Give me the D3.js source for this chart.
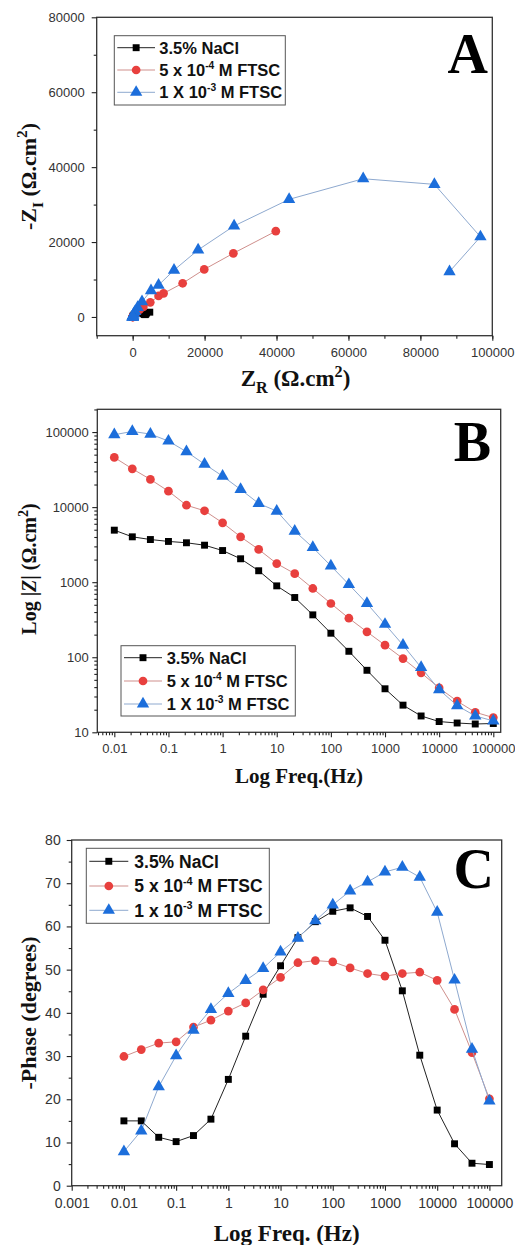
<!DOCTYPE html>
<html>
<head>
<meta charset="utf-8">
<script src="https://cdn.jsdelivr.net/npm/d3@7"></script>
<style>
  body { margin: 0; background: #fff; }
  svg { display: block; }
</style>
</head>
<body>
<svg id="chart" width="515" height="1245"></svg>
<script>
// frequencies, low -> high (Hz)
const FREQ = [0.01, 0.0215, 0.0464, 0.1, 0.215, 0.464, 1, 2.15, 4.64, 10, 21.5, 46.4,
  100, 215, 464, 1000, 2150, 4640, 10000, 21500, 46400, 100000];

// Nyquist (A): Z real / -Z imag, ohm.cm2, same order as FREQ
const NACL_ZR = [4760, 3880, 3630, 3440, 3280, 3000, 2400, 1690, 1020, 560, 340, 180, 93, 52, 31, 21, 16, 14, 13, 13, 13, 13];
const NACL_ZI = [1280, 1040, 720, 620, 670, 830, 1100, 1160, 990, 690, 530, 320, 190, 110, 59, 32, 16, 8, 4, 2, 1, 1];
const FTSC5_ZR = [39800, 28000, 19900, 13900, 8600, 7200, 4900, 2970, 1920, 1180, 810, 510, 320, 210, 140, 96, 63, 40, 26, 20, 16, 15];
const FTSC5_ZI = [22900, 17000, 12700, 9000, 6300, 5600, 3900, 2710, 1940, 1320, 1020, 650, 410, 255, 165, 109, 73, 47, 29, 17, 9, 5];
const FTSC1_ZR = [88100, 96700, 83900, 64100, 43500, 28200, 18200, 11500, 7200, 5100, 2600, 1390, 700, 350, 175, 82, 41, 23, 17, 15, 14, 13];
const FTSC1_ZI = [12100, 21400, 35400, 36900, 31400, 24300, 17900, 12500, 8500, 7000, 4100, 2540, 1500, 860, 490, 262, 139, 69, 33, 17, 9, 5];

// Bode |Z| (B), ohm.cm2
const NACL_MOD = [4930, 4020, 3700, 3490, 3350, 3110, 2640, 2050, 1420, 893, 625, 367, 209, 120, 67, 38, 23, 16.5, 13.9, 13.3, 12.9, 13.1];
const FTSC5_MOD = [45900, 32400, 23400, 16300, 10600, 8940, 6180, 4020, 2730, 1770, 1300, 824, 520, 331, 218, 145, 96, 62, 39, 26, 18.5, 15.7];
const FTSC1_MOD = [92100, 102000, 94000, 75900, 54700, 37400, 25900, 17200, 11200, 8850, 4790, 2900, 1650, 931, 520, 275, 145, 73, 37, 22.7, 16.5, 14.2];

// Bode -phase (C), degrees
const NACL_PH = [15.0, 15.0, 11.2, 10.2, 11.6, 15.4, 24.6, 34.6, 44.3, 50.9, 57.4, 61.1, 63.5, 64.3, 62.3, 56.8, 45.1, 30.2, 17.5, 9.7, 5.2, 4.9];
const FTSC5_PH = [29.9, 31.5, 33.0, 33.3, 36.7, 38.3, 40.4, 42.3, 45.3, 48.2, 51.6, 52.1, 51.8, 50.4, 49.1, 48.5, 49.1, 49.4, 47.5, 40.8, 30.8, 20.1];
const FTSC1_PH = [7.9, 12.7, 22.9, 30.1, 36.0, 40.8, 44.5, 47.5, 50.3, 54.1, 57.3, 61.3, 65.0, 68.2, 70.3, 72.6, 73.7, 71.4, 63.3, 47.6, 31.6, 19.6];

// legend labels: [before sup, sup, after sup]
const LEGEND_AB = [['3.5% NaCl', '', ''], ['5 x 10', '-4', ' M FTSC'], ['1 X 10', '-3', ' M FTSC']];
const LEGEND_C = [['3.5% NaCl', '', ''], ['5 x 10', '-4', ' M FTSC'], ['1 x 10', '-3', ' M FTSC']];

const LIN_TICKS_A_X = [0, 20000, 40000, 60000, 80000, 100000];
const LIN_TICKS_A_Y = [0, 20000, 40000, 60000, 80000];
const PHASE_TICKS = [0, 10, 20, 30, 40, 50, 60, 70, 80];

const STYLE = [
  { marker: d3.symbolSquare, size: 48, fill: '#000000', line: '#222222' },
  { marker: d3.symbolCircle, size: 60, fill: '#e8403e', line: '#cf8f8c' },
  { marker: d3.symbolTriangle, size: 66, fill: '#1c6edb', line: '#8ea9cf' }
];

const SANS = 'Liberation Sans, Arial, sans-serif';
const SERIF = 'Liberation Serif, Times New Roman, serif';

const svg = d3.select('#chart');

function logMinor(lo, hi) {
  const out = [];
  for (let e = lo; e < hi; e++) {
    for (let m = 2; m <= 9; m++) out.push(m * Math.pow(10, e));
  }
  return out;
}

function frame(g, x, y) {
  const [x0, x1] = x.range();
  const [y0, y1] = y.range();
  g.append('rect')
    .attr('x', x0).attr('y', y1)
    .attr('width', x1 - x0).attr('height', y0 - y1)
    .attr('fill', 'none').attr('stroke', '#333').attr('stroke-width', 1.3);
}

function axes(g, x, y, o) {
  const [y0] = y.range();
  const [x0] = x.range();
  const ax = g.append('g').attr('transform', `translate(0,${y0})`);
  ax.call(d3.axisBottom(x).tickValues(o.xMinor).tickSize(3).tickFormat(''));
  const axM = g.append('g').attr('transform', `translate(0,${y0})`)
    .call(d3.axisBottom(x).tickValues(o.xMajor).tickSize(5).tickPadding(o.xPad).tickFormat(o.xFmt));
  const ay = g.append('g').attr('transform', `translate(${x0},0)`);
  ay.call(d3.axisLeft(y).tickValues(o.yMinor).tickSize(3).tickFormat(''));
  const ayM = g.append('g').attr('transform', `translate(${x0},0)`)
    .call(d3.axisLeft(y).tickValues(o.yMajor).tickSize(5).tickPadding(o.yPad).tickFormat(o.yFmt));
  [ax, axM, ay, ayM].forEach((a) => {
    a.select('.domain').remove();
    a.selectAll('line').attr('stroke', '#222').attr('stroke-width', 1.1);
    a.selectAll('text').attr('fill', '#333').attr('font-family', SANS);
  });
  axM.selectAll('text').attr('font-size', o.size);
  ayM.selectAll('text').attr('font-size', o.size);
}

function series(g, x, y, xs, ys, st) {
  const pts = xs.map((v, i) => [x(v), y(ys[i])]);
  g.append('path')
    .attr('d', d3.line()(pts))
    .attr('fill', 'none')
    .attr('stroke', st.line)
    .attr('stroke-width', 1);
  g.append('g')
    .selectAll('path')
    .data(pts)
    .join('path')
    .attr('transform', (d) => `translate(${d[0]},${d[1]})`)
    .attr('d', d3.symbol().type(st.marker).size(st.size))
    .attr('fill', st.fill);
}

function legend(g, box, rows, lines, fontSize) {
  g.append('rect')
    .attr('x', box.x).attr('y', box.y).attr('width', box.w).attr('height', box.h)
    .attr('fill', '#fff').attr('stroke', '#555').attr('stroke-width', 1);
  lines.forEach((lab, i) => {
    const st = STYLE[i];
    const cy = rows[i];
    g.append('line')
      .attr('x1', box.x + 3).attr('x2', box.lineEnd)
      .attr('y1', cy).attr('y2', cy)
      .attr('stroke', st.line).attr('stroke-width', 1);
    g.append('path')
      .attr('transform', `translate(${(box.x + 3 + box.lineEnd) / 2},${cy})`)
      .attr('d', d3.symbol().type(st.marker).size(st.size))
      .attr('fill', st.fill);
    const t = g.append('text')
      .attr('x', box.textX).attr('y', cy + fontSize * 0.36)
      .attr('font-family', SANS).attr('font-weight', 'bold')
      .attr('font-size', fontSize).attr('fill', '#111');
    t.append('tspan').text(lab[0]);
    if (lab[1]) {
      t.append('tspan').attr('dy', -fontSize * 0.42).attr('font-size', fontSize * 0.62).text(lab[1]);
      t.append('tspan').attr('dy', fontSize * 0.42).text(lab[2]);
    }
  });
}

function letter(g, txt, xr, yb) {
  g.append('text')
    .attr('x', xr).attr('y', yb)
    .attr('text-anchor', 'end')
    .attr('font-family', SERIF).attr('font-weight', 'bold')
    .attr('font-size', 56).attr('fill', '#000')
    .text(txt);
}

// rich title: parts = [[text, 'sub'|'sup'|'i'|''], ...]
function title(g, parts, x, y, size, rotate) {
  const t = g.append('text')
    .attr('font-family', SERIF).attr('font-weight', 'bold')
    .attr('font-size', size).attr('fill', '#111')
    .attr('text-anchor', 'middle');
  if (rotate) t.attr('transform', `translate(${x},${y}) rotate(-90)`);
  else t.attr('x', x).attr('y', y);
  let shift = 0;
  parts.forEach(([s, kind]) => {
    const sp = t.append('tspan').text(s);
    let want = 0;
    if (kind === 'sub') want = size * 0.3;
    if (kind === 'sup') want = -size * 0.4;
    if (kind === 'sub' || kind === 'sup') sp.attr('font-size', size * 0.7);
    if (kind === 'i') sp.attr('font-style', 'italic');
    if (want !== shift) sp.attr('dy', want - shift);
    shift = want;
  });
}

// ---------- A: Nyquist ----------
{
  const g = svg.append('g');
  const x = d3.scaleLinear().domain([-10000, 100000]).range([96.7, 492.3]);
  const y = d3.scaleLinear().domain([-5000, 80000]).range([335.7, 17.3]);
  frame(g, x, y);
  axes(g, x, y, {
    xMajor: LIN_TICKS_A_X, xMinor: d3.range(-10000, 100001, 10000), xFmt: d3.format('d'), xPad: 7,
    yMajor: LIN_TICKS_A_Y, yMinor: d3.range(10000, 80000, 20000), yFmt: d3.format('d'), yPad: 7,
    size: 13
  });
  const plot = g.append('g');
  series(plot, x, y, NACL_ZR, NACL_ZI, STYLE[0]);
  series(plot, x, y, FTSC5_ZR, FTSC5_ZI, STYLE[1]);
  series(plot, x, y, FTSC1_ZR, FTSC1_ZI, STYLE[2]);
  legend(g, { x: 114.3, y: 35.7, w: 171, h: 69.3, lineEnd: 155, textX: 159.3 }, [47.7, 70, 92.3], LEGEND_AB, 16.5);
  letter(g, 'A', 488, 73);
  title(g, [['Z', ''], ['R', 'sub'], [' (\u03A9.cm', ''], ['2', 'sup'], [')', '']], 295.5, 386, 23, false);
  title(g, [['-Z', ''], ['I', 'sub'], [' (\u03A9.cm', ''], ['2', 'sup'], [')', '']], 36, 176.5, 22, true);
}

// ---------- B: |Z| ----------
{
  const g = svg.append('g');
  const x = d3.scaleLog().domain([0.00485, 137000]).range([97.3, 500.7]);
  const y = d3.scaleLog().domain([10, 201000]).range([732.3, 409.3]);
  frame(g, x, y);
  axes(g, x, y, {
    xMajor: [0.01, 0.1, 1, 10, 100, 1000, 10000, 100000],
    xMinor: logMinor(-3, 5).filter((v) => v > 0.00485),
    xFmt: (d) => String(+d.toPrecision(1)), xPad: 6,
    yMajor: [10, 100, 1000, 10000, 100000],
    yMinor: logMinor(1, 6).filter((v) => v < 201000),
    yFmt: (d) => String(d), yPad: 3.5,
    size: 13
  });
  const plot = g.append('g');
  series(plot, x, y, FREQ, NACL_MOD, STYLE[0]);
  series(plot, x, y, FREQ, FTSC5_MOD, STYLE[1]);
  series(plot, x, y, FREQ, FTSC1_MOD, STYLE[2]);
  legend(g, { x: 121, y: 645.7, w: 174.3, h: 70.3, lineEnd: 162, textX: 166.7 }, [657.7, 681, 704], LEGEND_AB, 16.5);
  letter(g, 'B', 491, 461);
  title(g, [['Log Freq.(Hz)', '']], 299, 783, 21, false);
  title(g, [['Log |', ''], ['Z', 'i'], ['| (\u03A9.cm', ''], ['2', 'sup'], [')', '']], 36, 569, 20, true);
}

// ---------- C: phase ----------
{
  const g = svg.append('g');
  const x = d3.scaleLog().domain([0.001, 172000]).range([71.7, 501.7]);
  const y = d3.scaleLinear().domain([0, 80]).range([1185.7, 840]);
  frame(g, x, y);
  axes(g, x, y, {
    xMajor: [0.001, 0.01, 0.1, 1, 10, 100, 1000, 10000, 100000],
    xMinor: logMinor(-3, 6).filter((v) => v < 172000),
    xFmt: (d) => String(+d.toPrecision(1)), xPad: 7,
    yMajor: PHASE_TICKS, yMinor: d3.range(5, 80, 10), yFmt: d3.format('d'), yPad: 6,
    size: 14
  });
  const plot = g.append('g');
  series(plot, x, y, FREQ, NACL_PH, STYLE[0]);
  series(plot, x, y, FREQ, FTSC5_PH, STYLE[1]);
  series(plot, x, y, FREQ, FTSC1_PH, STYLE[2]);
  legend(g, { x: 86.3, y: 848.3, w: 183, h: 75, lineEnd: 128.3, textX: 134.3 }, [861.3, 886, 910.3], LEGEND_C, 17.5);
  letter(g, 'C', 494, 888);
  title(g, [['Log Freq. (Hz)', '']], 286.7, 1241, 23, false);
  title(g, [['-Phase (degrees)', '']], 36, 1013, 22, true);
}
</script>
</body>
</html>
